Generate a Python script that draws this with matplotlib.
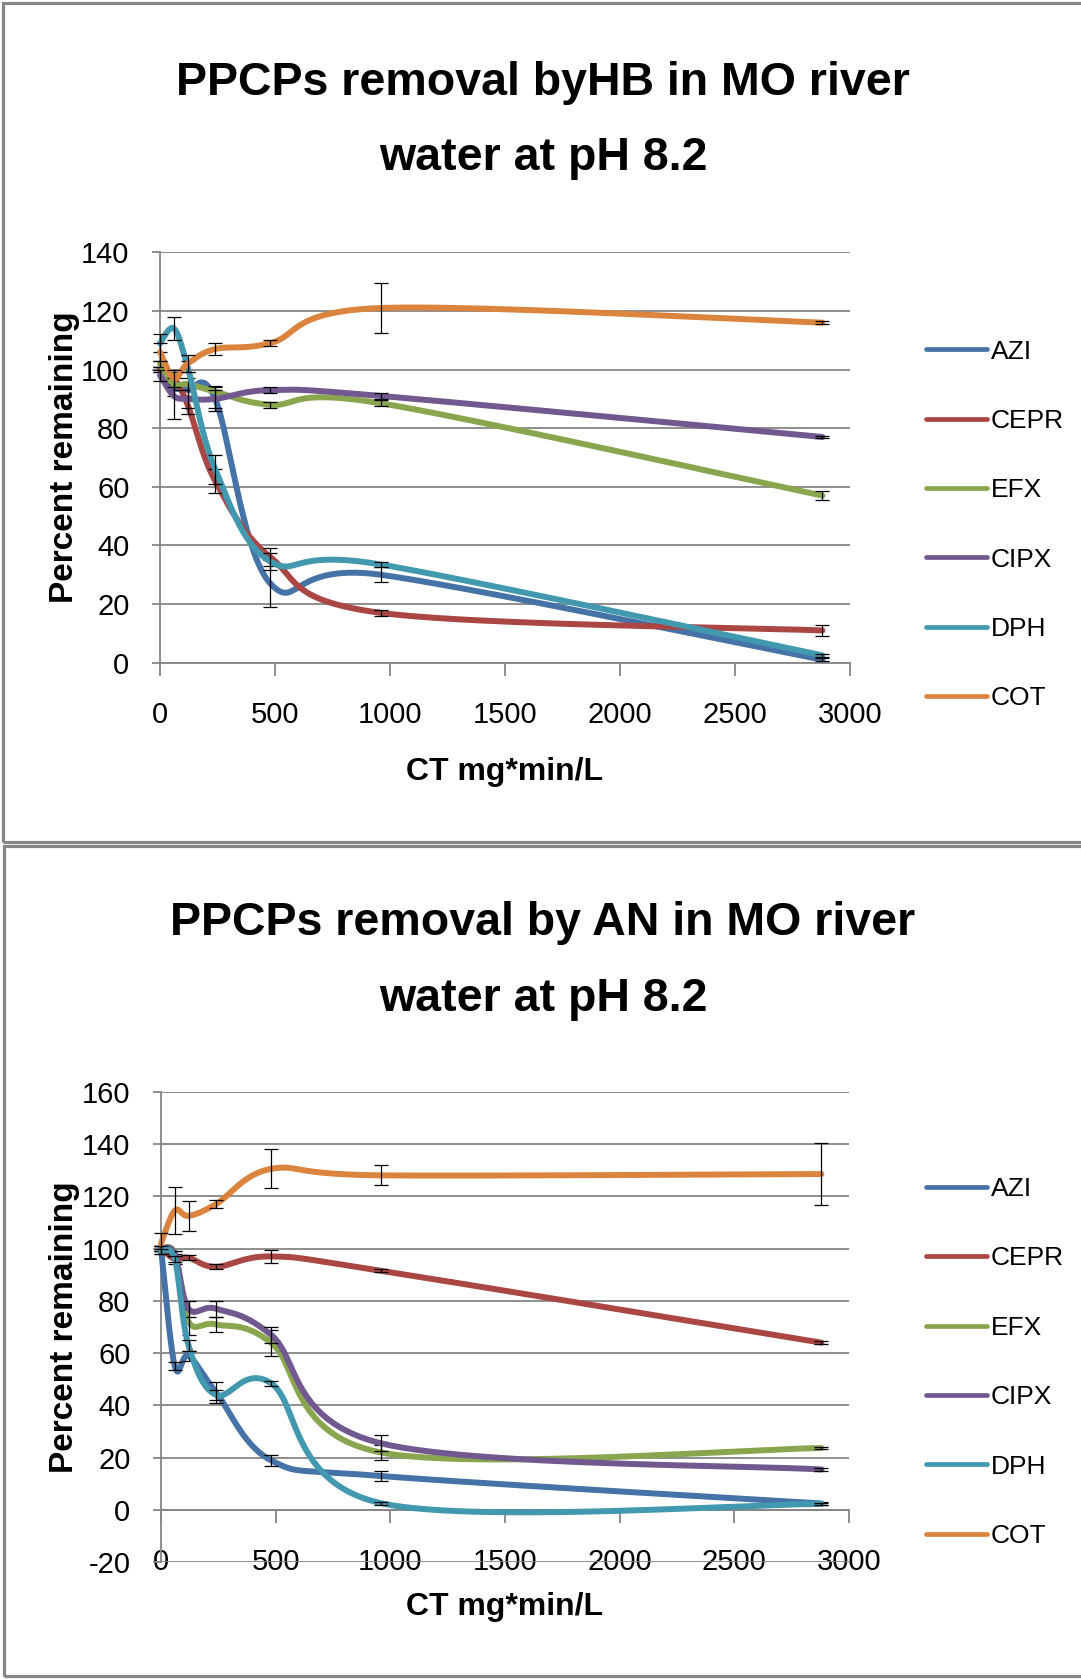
import numpy as np
import matplotlib
matplotlib.use("Agg")
import matplotlib.pyplot as plt
from matplotlib import font_manager
from matplotlib.lines import Line2D
from matplotlib.patches import Rectangle

plt.rcParams["axes.unicode_minus"] = False

# ---------------- data ----------------
ct = [0, 60, 120, 240, 480, 960, 2880]
series_names = ["AZI", "CEPR", "EFX", "CIPX", "DPH", "COT"]

# Top panel: HB
hb_azi = [100, 94, 93, 90, 27, 30, 1]
hb_cepr = [100, 97, 88, 62, 36, 17, 11]
hb_efx = [102, 95, 95, 92.5, 88, 88.5, 57]
hb_cipx = [98, 91, 90, 90, 93, 91, 77]
hb_dph = [109, 114, 101, 66, 34.5, 33.5, 2.5]
hb_cot = [106, 97, 102, 107, 109, 121, 116]

hb_azi_err = [1, 3, 2, 4, 8, 2.5, 0.5]
hb_cepr_err = [1, 2, 3, 4, 3, 1, 2]
hb_efx_err = [1, 2, 2, 2, 1, 1, 1.5]
hb_cipx_err = [2, 8, 3, 3, 1, 1, 0.5]
hb_dph_err = [3, 4, 2, 5, 3, 1, 0.5]
hb_cot_err = [3, 3, 3, 2, 1, 8.5, 0.5]

# Bottom panel: AN
an_azi = [100, 55, 59, 45, 19, 13, 2.5]
an_cepr = [100, 96, 96.5, 93, 97, 91.5, 64]
an_efx = [100, 98, 72, 71, 64, 22, 23.7]
an_cipx = [100, 98, 77, 77, 67, 25.5, 15.5]
an_dph = [99, 96, 63, 44, 48.5, 2.6, 2.3]
an_cot = [102, 114.5, 112.5, 117, 130.5, 128, 128.5]

an_azi_err = [1, 1.5, 2, 4, 2, 2, 0.5]
an_cepr_err = [1, 2, 1, 1, 2.5, 0.5, 0.5]
an_efx_err = [1, 1, 5, 3, 5, 3, 0.3]
an_cipx_err = [1, 1, 3, 3, 3, 3, 0.5]
an_dph_err = [1, 1, 2, 2, 1, 0.5, 0.5]
an_cot_err = [4, 9, 5.7, 1.5, 7.4, 3.8, 12]

x_ticks = [0, 500, 1000, 1500, 2000, 2500, 3000]
hb_y_ticks = [0, 20, 40, 60, 80, 100, 120, 140]
an_y_ticks = [-20, 0, 20, 40, 60, 80, 100, 120, 140, 160]

title_hb = "PPCPs removal byHB in MO river\nwater at pH 8.2"
title_an = "PPCPs removal by AN in MO river\nwater at pH 8.2"
xlabel = "CT mg*min/L"
ylabel = "Percent remaining"

colors = ["#4572A7", "#AA4643", "#89A54E", "#71588F", "#4198AF", "#DB843D"]
GRID = "#868686"


def pick(fams):
    for f in fams:
        try:
            font_manager.findfont(font_manager.FontProperties(family=f),
                                  fallback_to_default=False)
            return f
        except Exception:
            pass
    return "DejaVu Sans"


FONT = pick(["Liberation Sans Narrow", "Liberation Sans"])

W, H = 1081, 1679
fig = plt.figure(figsize=(W / 100, H / 100), dpi=100)


def px2fig(x, y):
    return x / W, 1 - y / H


def smooth(xs, ys, xlim, ylim, wpx, hpx, n=60):
    xs = np.asarray(xs, float)
    ys = np.asarray(ys, float)
    P = np.column_stack([(xs - xlim[0]) / (xlim[1] - xlim[0]) * wpx,
                         (ys - ylim[0]) / (ylim[1] - ylim[0]) * hpx])
    t = np.linspace(0, 1, n)[:, None]
    out = []
    for i in range(len(P) - 1):
        p0 = P[max(i - 1, 0)]
        p1 = P[i]
        p2 = P[i + 1]
        p3 = P[min(i + 2, len(P) - 1)]
        c1 = p1 + (p2 - p0) / 6
        c2 = p2 - (p3 - p1) / 6
        seg = ((1 - t) ** 3 * p1 + 3 * (1 - t) ** 2 * t * c1
               + 3 * (1 - t) * t ** 2 * c2 + t ** 3 * p2)
        out.append(seg if i == 0 else seg[1:])
    S = np.vstack(out)
    return (S[:, 0] / wpx * (xlim[1] - xlim[0]) + xlim[0],
            S[:, 1] / hpx * (ylim[1] - ylim[0]) + ylim[0])


def panel(box, ylim, yticks, data, errs, title, title_y, legend_y,
          xtick_pad, xlabel_y, axis_at_zero):
    l, t, r, b = box
    ax = fig.add_axes([l / W, 1 - b / H, (r - l) / W, (b - t) / H])
    xlim = (0, 3000)
    ax.set_xlim(*xlim)
    ax.set_ylim(*ylim)
    wpx, hpx = r - l, b - t
    for k, (ys, es) in enumerate(zip(data, errs)):
        sx, sy = smooth(ct, ys, xlim, ylim, wpx, hpx)
        ax.plot(sx, sy, color=colors[k], lw=4.3, solid_capstyle="round",
                solid_joinstyle="round", zorder=3 + 2 * k, clip_on=False)
        ax.errorbar(ct, ys, yerr=es, fmt="none", ecolor="black", elinewidth=0.9,
                    capsize=5, capthick=0.9, zorder=4 + 2 * k, clip_on=False)
    ax.set_xticks(x_ticks)
    ax.set_yticks(yticks)
    ax.grid(axis="y", color=GRID, lw=1.3, zorder=0)
    ax.set_axisbelow(True)
    for s in ("top", "right"):
        ax.spines[s].set_visible(False)
    ax.spines["left"].set_color(GRID)
    ax.spines["left"].set_linewidth(1.3)
    ax.spines["bottom"].set_color(GRID)
    ax.spines["bottom"].set_linewidth(1.3)
    if axis_at_zero:
        ax.spines["bottom"].set_position(("data", 0))
    ax.tick_params(axis="y", direction="out", length=6, width=1.3, color=GRID,
                   pad=16, labelsize=21)
    ax.tick_params(axis="x", direction="out", length=9.5, width=1.3, color=GRID,
                   pad=xtick_pad, labelsize=21)
    for lab in ax.get_xticklabels() + ax.get_yticklabels():
        lab.set_fontfamily(FONT)
    ax.set_xlabel(xlabel, fontsize=23, fontweight="bold", family=FONT)
    ax.xaxis.set_label_coords(0.5, (b - xlabel_y) / hpx)
    ax.xaxis.label.set_va("center")
    ax.set_ylabel(ylabel, fontsize=24, fontweight="bold", family=FONT)
    ax.yaxis.set_label_coords((65 - l) / wpx, 0.5)
    ax.yaxis.label.set_va("center")

    fx, fy = px2fig(543, title_y)
    fig.text(fx, fy, title, ha="center", va="center", fontsize=33.5,
             fontweight="bold", family=FONT, linespacing=1.92)

    handles = [Line2D([], [], color=c, lw=3.4, solid_capstyle="round") for c in colors]
    lx, ly = px2fig(926, legend_y)
    fig.legend(handles, series_names, loc="center left", bbox_to_anchor=(lx, ly),
               frameon=False, prop={"family": FONT, "size": 19},
               handlelength=2.3, handletextpad=0.15, labelspacing=1.72,
               borderpad=0, borderaxespad=0)
    return ax


panel((160, 252.3, 850, 662.7), (0, 140), hb_y_ticks,
      [hb_azi, hb_cepr, hb_efx, hb_cipx, hb_dph, hb_cot],
      [hb_azi_err, hb_cepr_err, hb_efx_err, hb_cipx_err, hb_dph_err, hb_cot_err],
      title_hb, 120.5, 525, 18, 772, False)

panel((161, 1091.7, 849, 1562.3), (-20, 160), an_y_ticks,
      [an_azi, an_cepr, an_efx, an_cipx, an_dph, an_cot],
      [an_azi_err, an_cepr_err, an_efx_err, an_cipx_err, an_dph_err, an_cot_err],
      title_an, 961, 1362.5, 18, 1607, True)

# panel frames
for (x0, y0, x1, y1) in [(2.5, 3.5, 1100, 841.5), (3.5, 845.5, 1100, 1676)]:
    fx0, fy1 = px2fig(x0, y1)
    rect = Rectangle((fx0, fy1), (x1 - x0) / W, (y1 - y0) / H,
                     transform=fig.transFigure, fill=False, edgecolor=GRID,
                     lw=2.3, clip_on=False)
    fig.patches.append(rect)

fig.savefig("out.png", dpi=100)
